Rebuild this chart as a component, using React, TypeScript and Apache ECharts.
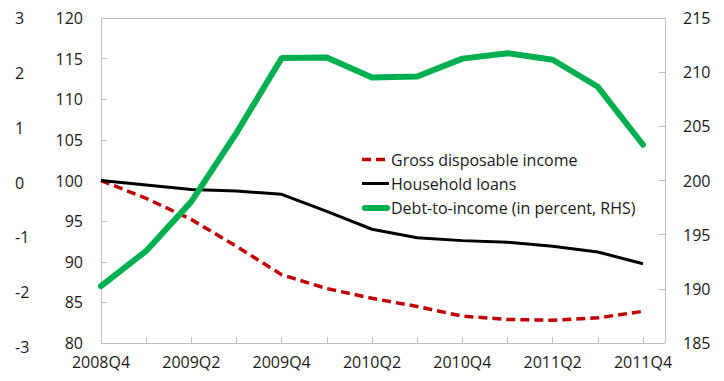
import React, { useEffect, useRef } from "react";
import * as echarts from "echarts";

const categories = [
  "2008Q4", "2009Q1", "2009Q2", "2009Q3", "2009Q4", "2010Q1", "2010Q2",
  "2010Q3", "2010Q4", "2011Q1", "2011Q2", "2011Q3", "2011Q4",
];
const seriesNames = ["Gross disposable income", "Household loans", "Debt-to-income (in percent, RHS)"];
const grossDisposableIncome = [100, 97.8, 95.2, 91.9, 88.4, 86.7, 85.5, 84.5, 83.3, 82.9, 82.8, 83.1, 83.9];
const householdLoans = [100, 99.45, 98.9, 98.7, 98.3, 96.2, 94.0, 92.95, 92.6, 92.4, 91.9, 91.2, 89.75];
const debtToIncome = [190.25, 193.5, 198.05, 204.4, 211.3, 211.35, 209.5, 209.6, 211.25, 211.75, 211.15, 208.65, 203.3];

const FONT = "Open Sans";
const TEXT = "#1a1a1a";
const AXIS = "#bfbfbf";
const RED = "#c00000";
const BLACK = "#000000";
const GREEN = "#00b050";

export default function App() {
  const ref = useRef<HTMLDivElement>(null);
  useEffect(() => {
    if (!ref.current) return;
    const chart = echarts.init(ref.current, undefined, { renderer: "svg" });
    const labelStyle = { color: TEXT, fontFamily: FONT, fontSize: 16 };
    const legendX = 362;
    const legendRows = [159.5, 183.5, 208];
    const legendStyles = [
      { stroke: RED, lineWidth: 3.5, lineDash: [9, 5], lineCap: "butt", x2: 386 },
      { stroke: BLACK, lineWidth: 3, lineCap: "butt", x2: 389 },
      { stroke: GREEN, lineWidth: 6, lineCap: "round", x2: 387 },
    ];
    const legendGraphics: any[] = [];
    seriesNames.forEach((name, i) => {
      const s = legendStyles[i];
      legendGraphics.push({
        type: "line",
        shape: { x1: legendX + (i === 2 ? 3 : 0), y1: legendRows[i], x2: s.x2, y2: legendRows[i] },
        style: { stroke: s.stroke, lineWidth: s.lineWidth, lineDash: s.lineDash, lineCap: s.lineCap },
        silent: true,
        z: 10,
      });
      legendGraphics.push({
        type: "text",
        x: 391,
        y: legendRows[i],
        style: {
          text: name,
          fill: TEXT,
          font: `16px "${FONT}"`,
          textVerticalAlign: "middle",
          verticalAlign: "middle",
          textAlign: "left",
        },
        silent: true,
        z: 10,
      });
    });
    chart.setOption({
      animation: false,
      textStyle: { fontFamily: FONT },
      grid: [
        { left: 101, right: 81, top: 18, bottom: 38 },
        { left: 101, right: 81, top: 18, bottom: 34 },
      ],
      xAxis: [
        {
          type: "category",
          gridIndex: 0,
          data: categories,
          boundaryGap: false,
          axisLine: { lineStyle: { color: AXIS, width: 1 } },
          axisTick: { inside: true, length: 6, interval: 0, lineStyle: { color: AXIS } },
          axisLabel: { ...labelStyle, interval: 1, margin: 11 },
          splitLine: { show: false },
        },
        { type: "category", gridIndex: 1, data: categories, show: false },
      ],
      yAxis: [
        {
          type: "value",
          gridIndex: 0,
          position: "left",
          min: 80,
          max: 120,
          interval: 5,
          axisLine: { show: true, lineStyle: { color: AXIS, width: 1 } },
          axisTick: { show: true, inside: true, length: 6, lineStyle: { color: AXIS } },
          axisLabel: { ...labelStyle, margin: 18 },
          splitLine: { show: false },
        },
        {
          type: "value",
          gridIndex: 0,
          position: "right",
          offset: 22,
          min: 185,
          max: 215,
          interval: 5,
          axisLine: { show: true, lineStyle: { color: AXIS, width: 1 } },
          axisTick: { show: true, inside: true, length: 6, lineStyle: { color: AXIS } },
          axisLabel: { ...labelStyle, margin: 18 },
          splitLine: { show: false },
        },
        {
          type: "value",
          gridIndex: 1,
          position: "left",
          min: -3,
          max: 3,
          interval: 1,
          axisLine: { show: false },
          axisTick: { show: false },
          axisLabel: { ...labelStyle, margin: 86, align: "left" },
          splitLine: { show: false },
        },
      ],
      graphic: [
        {
          type: "line",
          shape: { x1: 101, y1: 18.5, x2: 665, y2: 18.5 },
          style: { stroke: AXIS, lineWidth: 1 },
          silent: true,
        },
        {
          type: "line",
          shape: { x1: 643, y1: 343.5, x2: 665, y2: 343.5 },
          style: { stroke: AXIS, lineWidth: 1 },
          silent: true,
        },
        ...legendGraphics,
      ],
      series: [
        {
          name: seriesNames[0],
          type: "line",
          xAxisIndex: 0,
          yAxisIndex: 0,
          data: grossDisposableIncome,
          symbol: "none",
          lineStyle: { color: RED, width: 3.5, type: [9, 5], cap: "butt" },
          itemStyle: { color: RED },
          z: 3,
        },
        {
          name: seriesNames[1],
          type: "line",
          xAxisIndex: 0,
          yAxisIndex: 0,
          data: householdLoans,
          symbol: "none",
          lineStyle: { color: BLACK, width: 3 },
          itemStyle: { color: BLACK },
          z: 4,
        },
        {
          name: seriesNames[2],
          type: "line",
          xAxisIndex: 0,
          yAxisIndex: 1,
          data: debtToIncome,
          symbol: "none",
          lineStyle: { color: GREEN, width: 6, cap: "round" },
          itemStyle: { color: GREEN },
          z: 5,
        },
      ],
    });
    return () => chart.dispose();
  }, []);
  return <div ref={ref} style={{ width: 724, height: 381, position: "absolute", left: 0, top: 0 }} />;
}
